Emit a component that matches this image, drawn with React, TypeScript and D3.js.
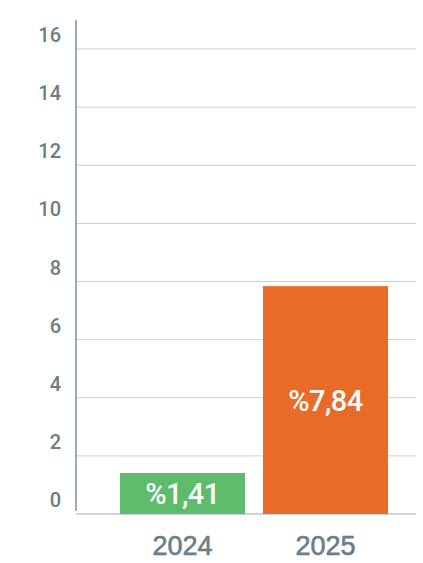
import { useEffect, useRef } from 'react'
import * as d3 from 'd3'

const years = ['2024', '2025']
const rates = [1.41, 7.84]
const rateLabels = ['%1,41', '%7,84']
const barColors = ['#5dbb6b', '#e86b27']
const yTicks = [0, 2, 4, 6, 8, 10, 12, 14, 16]

const W = 423
const H = 563

export default function App() {
  const svgRef = useRef<SVGSVGElement | null>(null)

  useEffect(() => {
    if (!svgRef.current) return
    const svg = d3.select(svgRef.current)
    svg.selectAll('*').remove()

    const left = 76, right = 416
    const y = d3.scaleLinear().domain([0, 16]).range([514, 49])
    const x = d3.scaleBand().domain(years).range([120, 388]).paddingInner(0.126).paddingOuter(0)

    // gridlines
    svg.append('g')
      .selectAll('line')
      .data(yTicks)
      .join('line')
      .attr('x1', left).attr('x2', right)
      .attr('y1', d => y(d)).attr('y2', d => y(d))
      .attr('stroke', d => d === 0 ? '#bfc6cc' : '#c9ced4')
      .attr('stroke-width', d => d === 0 ? 1.5 : 1)

    // y axis line
    svg.append('line')
      .attr('x1', left).attr('x2', left)
      .attr('y1', y(17)).attr('y2', y(0.1))
      .attr('stroke', '#7d8e97')
      .attr('stroke-width', 1.5)

    // tick labels, sitting above each gridline
    svg.append('g')
      .selectAll('text')
      .data(yTicks)
      .join('text')
      .attr('x', 61)
      .attr('y', d => y(d) - 7)
      .attr('text-anchor', 'end')
      .attr('font-family', 'Roboto, "Liberation Sans", sans-serif')
      .attr('font-weight', 500)
      .attr('font-size', 20)
      .attr('fill', '#6a7e88')
      .text(d => d)

    // bars
    const idx = d3.range(years.length)
    svg.append('g')
      .selectAll('rect')
      .data(idx)
      .join('rect')
      .attr('x', i => x(years[i])!)
      .attr('width', x.bandwidth())
      .attr('y', i => y(rates[i]))
      .attr('height', i => y(0) - y(rates[i]))
      .attr('fill', i => barColors[i])

    // value labels centred in the bars
    svg.append('g')
      .selectAll('text')
      .data(idx)
      .join('text')
      .attr('x', i => x(years[i])! + x.bandwidth() / 2)
      .attr('y', i => (y(rates[i]) + y(0)) / 2)
      .attr('dy', '0.36em')
      .attr('text-anchor', 'middle')
      .attr('font-family', 'Roboto, sans-serif')
      .attr('font-weight', 500)
      .attr('font-size', 29)
      .attr('letter-spacing', -0.6)
      .attr('fill', '#ffffff')
      .text(i => rateLabels[i])

    // category labels
    svg.append('g')
      .selectAll('text')
      .data(years)
      .join('text')
      .attr('x', d => x(d)! + x.bandwidth() / 2)
      .attr('y', 555)
      .attr('text-anchor', 'middle')
      .attr('font-family', '"Liberation Sans", Arial, sans-serif')
      .attr('font-size', 27)
      .attr('fill', '#6a7e88')
      .attr('stroke', '#6a7e88')
      .attr('stroke-width', 0.6)
      .text(d => d)
  }, [])

  return (
    <div style={{ position: 'fixed', left: 0, top: 0, width: W, height: H, background: '#fff' }}>
      <svg ref={svgRef} width={W} height={H} style={{ display: 'block' }} />
    </div>
  )
}
